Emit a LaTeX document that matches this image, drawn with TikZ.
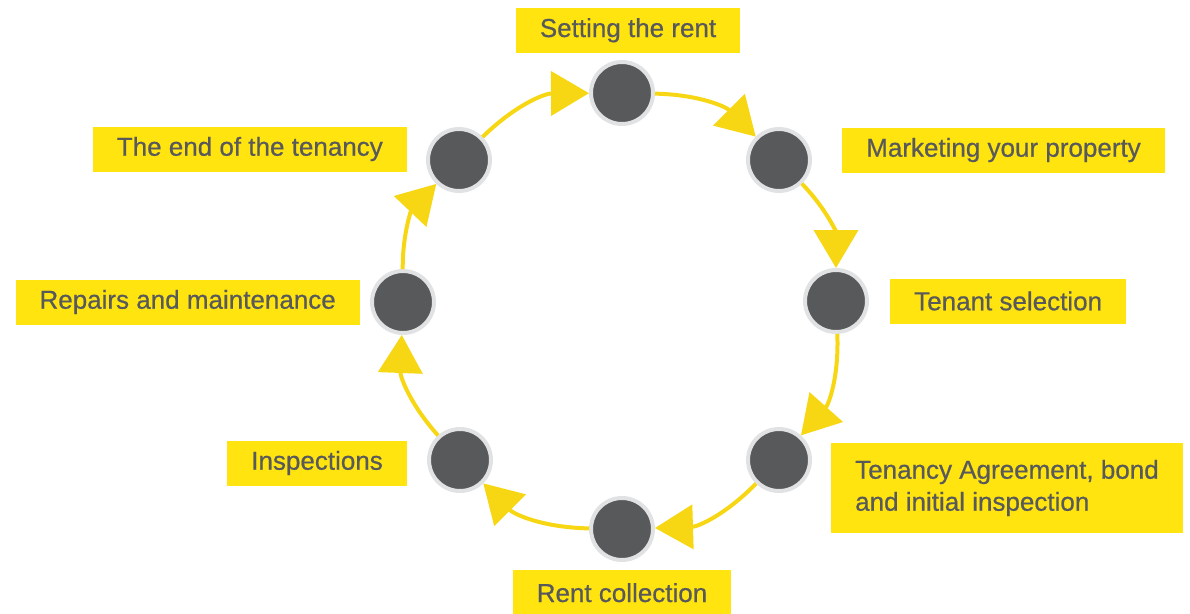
\documentclass[tikz,border=0pt]{standalone}
\usepackage{fontspec}
\setmainfont{Liberation Sans}
\newfontfamily\tagfont{Liberation Sans}[FakeBold=0.6]
\usetikzlibrary{positioning,arrows.meta}
\definecolor{signyellow}{HTML}{FFE40F}
\definecolor{arcyellow}{HTML}{F7D714}
\definecolor{dotgrey}{HTML}{58595B}
\definecolor{ringgrey}{HTML}{E1E2E4}

\begin{document}
\begin{tikzpicture}[x=1pt, y=-1pt, node distance=20pt,
        >={Triangle[length=38pt,width=44pt]},
        main/.style = {circle, fill=dotgrey, draw=ringgrey, line width=4pt, minimum size=62pt, inner sep=0pt},
        tag/.style = {fill=signyellow, text=dotgrey, font=\tagfont\fontsize{26}{32}\selectfont, inner xsep=24pt, inner ysep=0pt, minimum height=45pt, align=left},
        loop/.style = {draw=arcyellow, line width=4pt}]
        \useasboundingbox (0,0) rectangle (1190,613);
        % stages round the cycle
        \node[main] (1) at (622,93) {};
        \node[main] (2) at (779,160) {};
        \node[main] (3) at (836,301) {};
        \node[main] (4) at (779,460) {};
        \node[main] (5) at (622,529) {};
        \node[main] (6) at (460,460) {};
        \node[main] (7) at (403,302) {};
        \node[main] (8) at (459,160) {};
        % labels
        \node[tag, above=7pt of 1, xshift=6pt] (l1) {Setting the rent};
        \node[tag, right=30pt of 2, yshift=10pt] (l2) {Marketing your property};
        \node[tag, right=21pt of 3] (l3) {Tenant selection};
        \node[tag, right=19pt of 4, yshift=-28pt, inner ysep=17pt] (l4) {Tenancy Agreement, bond\\and initial inspection};
        \node[tag, below=8pt of 5] (l5) {Rent collection};
        \node[tag, left=20pt of 6, yshift=-3pt] (l6) {Inspections};
        \node[tag, left=10pt of 7] (l7) {Repairs and maintenance};
        \node[tag, left=19pt of 8, yshift=11pt] (l8) {The end of the tenancy};
        % arcs
        \draw[loop, ->] (1) to[bend left=22] (2);
        \draw[loop, ->] (2) to[bend left=22] (3);
        \draw[loop, ->] (3) to[bend left=22] (4);
        \draw[loop, ->] (4) to[bend left=22] (5);
        \draw[loop, ->] (5) to[bend left=22] (6);
        \draw[loop, ->] (6) to[bend left=22] (7);
        \draw[loop, ->] (7) to[bend left=22] (8);
        \draw[loop, ->] (8) to[bend left=22] (1);
\end{tikzpicture}
\end{document}
